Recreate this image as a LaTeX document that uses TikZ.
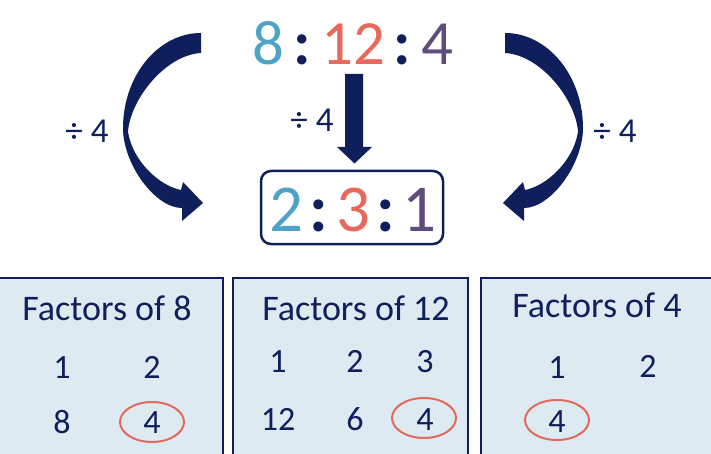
\documentclass[tikz,border=0pt]{standalone}
\usepackage{fontspec}
\setmainfont{Carlito}
\definecolor{navy}{HTML}{0E1F5B}
\definecolor{cblue}{HTML}{4FA3C7}
\definecolor{cred}{HTML}{E8685B}
\definecolor{cpurp}{HTML}{5E4C7E}
\definecolor{boxfill}{HTML}{DEEAF1}
\definecolor{ring}{HTML}{E06A5C}
\tikzset{
  big/.style={inner sep=0pt, anchor=base, font=\fontsize{63}{63}\selectfont},
  bigb/.style={inner sep=0pt, anchor=base, font=\fontsize{67}{67}\selectfont},
  divlbl/.style={inner sep=0pt, anchor=base, text=navy, font=\fontsize{35}{35}\selectfont},
  factbox/.style={fill=boxfill, draw=navy, line width=1.8pt},
  title/.style={inner sep=0pt, anchor=base, text=navy, font=\fontsize{36}{36}\selectfont},
  num/.style={inner sep=0pt, anchor=base, text=navy, font=\fontsize{34}{34}\selectfont},
  ring/.style={draw=ring, line width=2pt},
  curvearrow/.style={fill=navy, draw=none}
}
\begin{document}
\begin{tikzpicture}[x=1pt,y=-1pt]
\useasboundingbox (0,0) rectangle (711,454);
% top ratio
\node[big, text=cblue] (t8) at (268,65) {8};
\node[big, text=navy] (tc1) at (302,65) {\bfseries :};
\node[big, text=cred] (t12) at (353,65) {12};
\node[big, text=navy] (tc2) at (402,65) {\bfseries :};
\node[big, text=cpurp] (t4) at (437.5,65) {4};
% result box
\draw[navy, line width=2.5pt, rounded corners=10pt] (261,171) rectangle (443,244);
\node[bigb, text=cblue] (r2) at (286,232) {2};
\node[bigb, text=navy] (rc1) at (319,232) {\bfseries :};
\node[bigb, text=cred] (r3) at (353.5,232) {3};
\node[bigb, text=navy] (rc2) at (386,232) {\bfseries :};
\node[bigb, text=cpurp] (r1) at (419.5,232) {1};
% down arrow
\fill[navy] (345,74) -- (363,74) -- (363,147) -- (372,147) -- (354.5,163.5) -- (337,147) -- (345,147) -- cycle;
% curved arrows
\def\curvedarrow{%
  \fill[curvearrow] (201,33) .. controls (158,33) and (123,76) .. (123,128)
    .. controls (123,164) and (155,208) .. (182,208)
    -- (182,221) -- (203,203) -- (183,182) -- (181,190)
    .. controls (160,186) and (133,162) .. (128,132)
    .. controls (130,100) and (165,55) .. (201,53) -- cycle;}
\curvedarrow
\begin{scope}[shift={(706,0)}, xscale=-1]
\curvedarrow
\end{scope}
% labels
\node[divlbl] (dl) at (87,143) {÷ 4};
\node[divlbl] (dm) at (312,132) {÷ 4};
\node[divlbl] (dr) at (615,143) {÷ 4};
% factor boxes
\draw[factbox] (-3,278) rectangle (223,460);
\draw[factbox] (233,278) rectangle (468,460);
\draw[factbox] (481,278) rectangle (716,460);
\node[title] (f8) at (107,320) {Factors of 8};
\node[title] (f12) at (356,320) {Factors of 12};
\node[title] (f4) at (597,317) {Factors of 4};
% box 1
\node[num] (a1) at (62,378) {1};
\node[num] (a2) at (152,378) {2};
\node[num] (a8) at (62,433) {8};
\node[num] (a4) at (152,433) {4};
\draw[ring] (152,422) ellipse (32 and 20);
% box 2
\node[num] (b1) at (278,372) {1};
\node[num] (b2) at (355,372) {2};
\node[num] (b3) at (425,372) {3};
\node[num] (b12) at (278,430) {12};
\node[num] (b6) at (355,430) {6};
\node[num] (b4) at (425,430) {4};
\draw[ring] (424,418) ellipse (32 and 20);
% box 3
\node[num] (c1) at (557,378) {1};
\node[num] (c2) at (648,377) {2};
\node[num] (c4) at (557,432) {4};
\draw[ring] (557,420) ellipse (32 and 20);
\end{tikzpicture}
\end{document}
